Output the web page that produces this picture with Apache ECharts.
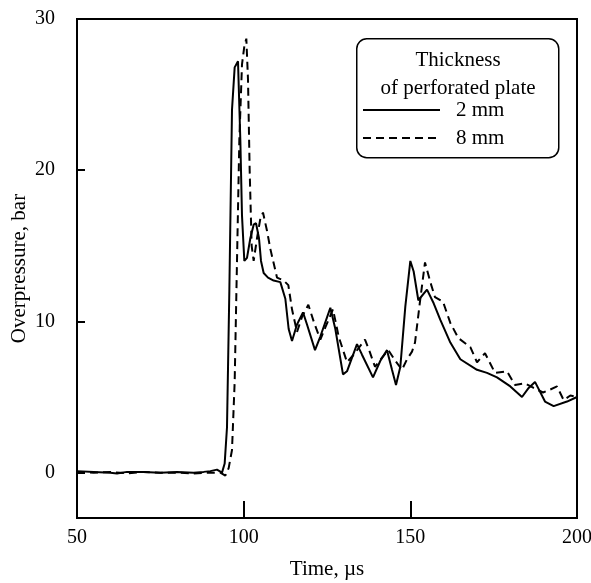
<!DOCTYPE html>
<html><head><meta charset="utf-8">
<script src="https://cdn.jsdelivr.net/npm/echarts@6/dist/echarts.min.js"></script>
<style>html,body{margin:0;padding:0;background:#fff}#c{width:591px;height:583px}</style>
</head><body><div id="c"></div>
<script>
const xTicks = [50, 100, 150, 200];
const yTicks = [0, 10, 20, 30];
const t2mm = [50,55,60,62,65,70,75,80,85,88,90,92,93.5,94.3,95,95.7,96.5,97.3,98.3,99,99.5,100.2,101,102,103,103.7,104.6,105.2,106,107.3,109,111,112.5,113.5,114.5,116,117.8,119,121.4,123,126,127.5,129.8,131,134,135.5,138.8,141,143,144.5,145.7,147,148.5,150,151,152.4,155,157,159,162,165,170,173,176,180,183.5,185.5,187.4,190.4,193,197,200];
const p2mm = [0.1,0.05,0.0,-0.05,0.05,0.05,0.0,0.05,0.0,0.05,0.1,0.2,0.0,0.6,3,12,24,26.8,27.2,22,17,14,14.2,15.5,16.4,16.5,15.5,14,13.2,12.9,12.7,12.6,11.5,9.5,8.7,9.8,10.6,9.8,8.1,9.0,10.9,9.5,6.5,6.7,8.5,7.8,6.3,7.4,8.1,6.8,5.8,7.0,11,14.0,13.3,11.4,12.1,11.2,10.1,8.6,7.5,6.8,6.6,6.3,5.7,5.0,5.6,6.0,4.7,4.4,4.7,5.0];
const t8mm = [50,55,60,65,70,75,80,85,90,93,94.5,95.5,96.5,97.3,98,98.7,99.5,100.2,100.8,101.3,101.8,102.4,103,104,105,105.8,107,108,110,112,113.4,114.5,116,117.5,119.4,121,123,124.5,126.8,128.5,131,133,136.4,137.8,139.4,141.5,143.4,145.5,147.5,149,150.5,151.4,153,154.4,156,157.4,159.8,162,164.4,168,170,172.4,175.4,179,181.4,184.4,187,189.8,192,194,196,198,200];
const p8mm = [0.05,0.0,0.05,-0.05,0.05,0.0,0.0,-0.05,0.0,0.0,-0.2,0.3,1.5,6,14,22,27,28.2,28.7,26,20,15,14,15.5,16.8,17.2,16,14.8,12.9,12.7,12.4,10.8,9.3,10.3,11.1,10,8.8,9.6,10.8,9.0,7.3,7.8,8.8,8.0,7.0,7.6,8.1,7.4,6.8,7.5,8.0,8.6,11.5,13.9,12.6,11.6,11.3,9.9,8.9,8.3,7.3,7.9,6.6,6.7,5.8,5.9,5.6,5.3,5.5,5.7,4.8,5.1,5.0];
const legendTitle = ['Thickness', 'of perforated plate'];
const seriesNames = ['2 mm', '8 mm'];

const font = 'Liberation Serif';
const lf = '21px "Liberation Serif"';
const chart = echarts.init(document.getElementById('c'), null, {renderer: 'canvas'});
const zip = (a, b) => a.map((v, i) => [v, b[i]]);
chart.setOption({
  animation: false,
  backgroundColor: '#fff',
  grid: {left: 77, top: 19, width: 500, height: 499,
         outerBounds: {left: -300, top: -300, right: -300, bottom: -300},
         show: true, borderColor: '#000', borderWidth: 2, backgroundColor: 'transparent'},
  xAxis: {
    type: 'value', min: 50, max: 200, interval: 50,
    name: 'Time, µs', nameLocation: 'middle', nameGap: 41, nameMoveOverlap: false,
    nameTextStyle: {fontFamily: font, fontSize: 21, color: '#000'},
    axisLine: {show: true, onZero: false, lineStyle: {color: '#000', width: 2}},
    axisTick: {show: true, inside: true, length: 17, lineStyle: {color: '#000', width: 2}},
    axisLabel: {fontFamily: font, fontSize: 20, color: '#000', margin: 10},
    splitLine: {show: false}
  },
  yAxis: {
    type: 'value', min: -3, max: 30,
    name: 'Overpressure, bar', nameLocation: 'middle', nameGap: 47, nameMoveOverlap: false,
    nameTextStyle: {fontFamily: font, fontSize: 21, color: '#000'},
    axisLine: {show: true, onZero: false, lineStyle: {color: '#000', width: 2}},
    axisTick: {show: true, inside: true, length: 8, customValues: yTicks, lineStyle: {color: '#000', width: 2}},
    axisLabel: {fontFamily: font, fontSize: 20, color: '#000', margin: 22, customValues: yTicks},
    splitLine: {show: false}
  },
  series: [
    {name: seriesNames[0], type: 'line', data: zip(t2mm, p2mm), showSymbol: false, symbol: 'none',
     lineStyle: {color: '#000', width: 2}},
    {name: seriesNames[1], type: 'line', data: zip(t8mm, p8mm), showSymbol: false, symbol: 'none',
     lineStyle: {color: '#000', width: 2, type: [8, 5]}}
  ],
  graphic: [
    {type: 'rect', left: 356, top: 38, shape: {width: 202, height: 119, r: 10},
     style: {fill: '#fff', stroke: '#000', lineWidth: 1.5}, z: 10},
    {type: 'text', x: 458, y: 60, style: {text: legendTitle[0], font: lf, fill: '#000', align: 'center', verticalAlign: 'middle'}, z: 11},
    {type: 'text', x: 458, y: 88, style: {text: legendTitle[1], font: lf, fill: '#000', align: 'center', verticalAlign: 'middle'}, z: 11},
    {type: 'line', shape: {x1: 363, y1: 110, x2: 440, y2: 110}, style: {stroke: '#000', lineWidth: 2}, z: 11},
    {type: 'text', x: 456, y: 110, style: {text: seriesNames[0], font: lf, fill: '#000', align: 'left', verticalAlign: 'middle'}, z: 11},
    {type: 'line', shape: {x1: 363, y1: 138, x2: 440, y2: 138}, style: {stroke: '#000', lineWidth: 2, lineDash: [8, 5]}, z: 11},
    {type: 'text', x: 456, y: 138, style: {text: seriesNames[1], font: lf, fill: '#000', align: 'left', verticalAlign: 'middle'}, z: 11}
  ]
});
</script></body></html>
